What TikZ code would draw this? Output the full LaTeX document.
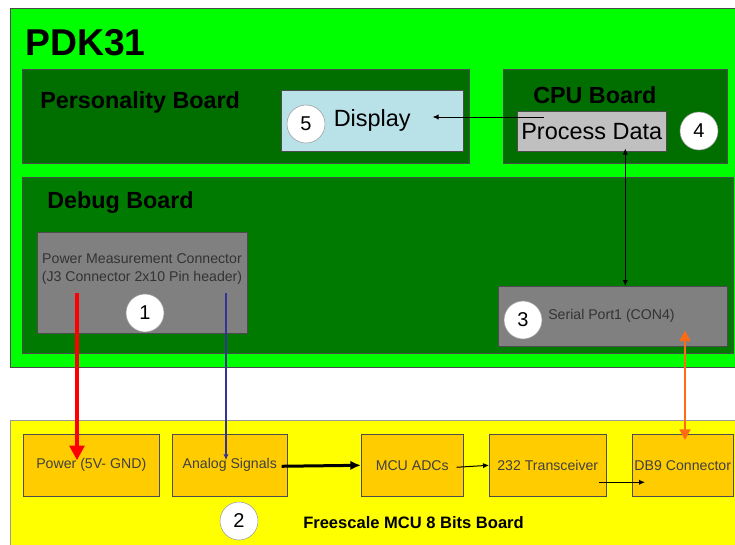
\documentclass[tikz,border=0pt]{standalone}
\usepackage{fontspec}
\setmainfont{Liberation Sans}
\definecolor{pdkgreen}{HTML}{00FF00}
\definecolor{brdgreen}{HTML}{006F00}
\definecolor{dbggreen}{HTML}{007A00}
\definecolor{displayblue}{HTML}{B9E1E8}
\definecolor{procgrey}{HTML}{C0C0C0}
\definecolor{conngrey}{HTML}{808080}
\definecolor{mcuyellow}{HTML}{FFFF00}
\definecolor{partorange}{HTML}{FFCC00}
\definecolor{wireblue}{HTML}{333399}
\definecolor{wireorange}{HTML}{FF6A13}
\usetikzlibrary{positioning, arrows.meta, calc}

\begin{document}
\begin{tikzpicture}[x=0.75pt, y=-0.75pt, every node/.style={inner sep=0pt},
    board/.style={draw=black!70, anchor=north west},
    title/.style={anchor=west, font=\bfseries\fontsize{17.5}{21}\selectfont},
    num/.style={circle, draw=black!40, fill=white, minimum size=28.5pt, font=\fontsize{15}{15}\selectfont},
    part/.style={draw=black!70, fill=partorange, anchor=north west, minimum height=46.5pt, text=black!75, font=\fontsize{10.6}{12}\selectfont},
    small/.style={text=black!80, font=\fontsize{10.6}{13.5}\selectfont},
    tip/.style={-{Latex[length=4.5pt,width=4pt]}, line width=0.75pt},
    twotip/.style={{Latex[length=4.5pt,width=4pt]}-{Latex[length=4.5pt,width=4pt]}, line width=0.75pt}]
  \useasboundingbox (0,0) rectangle (735,544);
  \node[board, fill=pdkgreen, minimum width=570pt, minimum height=269.25pt] (pdk) at (10,8) {};
  \node[anchor=west, font=\bfseries\fontsize{28}{30}\selectfont] (pdkt) at (25,43) {PDK31};
  \node[board, fill=brdgreen, minimum width=335.25pt, minimum height=70.5pt] (pers) at (22,69) {};
  \node[title] (perst) at (40,102) {Personality Board};
  \node[board, fill=brdgreen, minimum width=168pt, minimum height=70.5pt] (cpu) at (503,69) {};
  \node[title] (cput) at (533,95) {CPU Board};
  \node[board, fill=displayblue, minimum width=136.5pt, minimum height=45.75pt, font=\fontsize{17.6}{20}\selectfont] (disp) at (281,90) {\raisebox{-2pt}{Display}};
  \node[num] (n5) at (306,124) {5};
  \node[board, fill=procgrey, minimum width=111.75pt, minimum height=30pt, font=\fontsize{17.6}{20}\selectfont] (proc) at (517,111) {Process Data};
  \node[num] (n4) at (699,131) {4};
  \node[board, fill=dbggreen, minimum width=533.25pt, minimum height=132pt] (dbg) at (22,177) {};
  \node[title] (dbgt) at (47,203) {Debug Board};
  \node[board, fill=conngrey, minimum width=157.5pt, minimum height=75.75pt] (pmc) at (37,232) {};
  \node[small, align=center] (pmct) at (142,269) {Power Measurement Connector\\ (J3 Connector 2x10 Pin header)};
  \node[num] (n1) at (145,313) {1};
  \node[board, fill=conngrey, minimum width=171.75pt, minimum height=45pt] (ser) at (498,286) {};
  \node[small, anchor=west] (sert) at (548,316) {Serial Port1 (CON4)};
  \node[num] (n3) at (523,320) {3};
  \node[board, draw=black!40, fill=mcuyellow, minimum width=570pt, minimum height=120pt] (mcu) at (10,420) {};
  \node[part, minimum width=102pt] (pwr) at (23,434) {Power (5V- GND)};
  \node[part, minimum width=86.25pt] (ana) at (172,434) {Analog Signals};
  \node[part, minimum width=76.5pt] (adc) at (361,434) {MCU ADCs};
  \node[part, minimum width=87.75pt] (trx) at (489,434) {232 Transceiver};
  \node[part, minimum width=75.75pt] (db9) at (632,434) {DB9 Connector};
  \node[num] (n2) at (239,521) {2};
  \node[anchor=west, font=\bfseries\fontsize{12.4}{14}\selectfont] (mcut) at (303,523) {Freescale MCU 8 Bits Board};
  \draw[tip] ($(proc.north west)+(27,6)$) -- ($(disp.north east)+(-31,27)$);
  \coordinate (bus) at ($(proc.south)+(33.5,-3)$);
  \draw[twotip] (bus) -- (bus |- ser.north);
  \coordinate (pw) at ($(pmc.north west)+(40,61)$);
  \draw[red, line width=3pt, -{Triangle[length=11pt,width=11pt]}] (pw) -- ($(pw |- pwr.center)+(0,-5)$);
  \coordinate (an) at ($(pmc.north west)+(189,61)$);
  \draw[wireblue, tip, line width=1pt] (an) -- ($(an |- ana.center)+(0,-5)$);
  \coordinate (rs) at ($(ser.south west)+(187,-16)$);
  \draw[wireorange, line width=2pt, {Triangle[length=8pt,width=8pt]}-{Triangle[length=8pt,width=8pt]}] (rs) -- ($(rs |- db9.north)+(0,6)$);
  \draw[line width=2.25pt, -{Latex[length=8pt,width=7pt]}] ($(ana.east)+(-6,1)$) -- (adc.west);
  \draw[tip] ($(adc.east)+(-7,2)$) -- (trx.west);
  \draw[tip] ($(trx.east)+(-8,17)$) -- ($(db9.west)+(13,17)$);
\end{tikzpicture}
\end{document}
